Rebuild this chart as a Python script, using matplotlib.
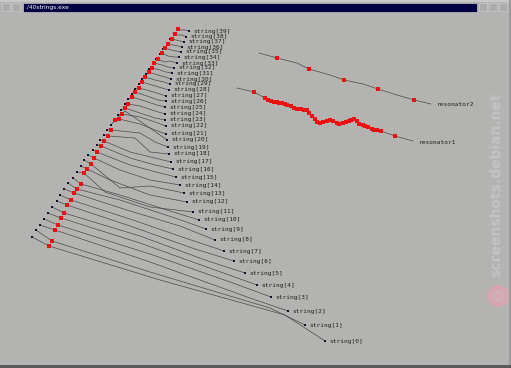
import matplotlib.pyplot as plt
from matplotlib.patches import Rectangle, Circle

# ----------------------------------------------------------------------
# 40 strings: start point, red marker, two bend points, end point (pixels)
# ----------------------------------------------------------------------
string_ids = list(range(40))

start_x = [32, 36, 40, 44, 48, 52, 57, 60, 64, 68, 73, 77, 81, 84, 88, 93, 97, 100, 104, 107,
           111, 114, 118, 121, 125, 128, 132, 135, 139, 142, 146, 149, 153, 156, 160, 163, 167, 170, 174, 177]
start_y = [237, 230, 225, 219, 213, 207, 201, 195, 189, 183, 178, 172, 166, 160, 155, 150, 145, 140, 135, 130,
           125, 120, 115, 110, 104, 99, 94, 89, 84, 79, 74, 69, 64, 59, 54, 49, 44, 39, 34, 29]

red_x = [49, 52, 55, 58, 61, 64, 67, 71, 74, 77, 81, 84, 87, 91, 94, 97, 101, 104, 108, 111,
         115, 119, 122, 125, 128, 132, 135, 139, 142, 145, 149, 152, 154, 158, 162, 165, 168, 172, 175, 178]
red_y = [246, 241, 230, 225, 218, 213, 205, 200, 193, 189, 184, 173, 169, 164, 158, 152, 146, 141, 136, 130,
         120, 119, 114, 108, 104, 97, 92, 88, 82, 77, 72, 68, 63, 59, 53, 48, 44, 39, 34, 29]

bend1_x = [160, 150, 150, 150, 140, 140, 130, 130, 130, 120, 120, 105, 110, 120, 120, 130, 130, 130, 135, 140,
           125, 140, 140, 140, 140, 145, 147, 150, 152, 155, 158, 160, 162, 164, 168, 171, 173, 176, 178, 181]
bend1_y = [280, 272, 262, 254, 243, 236, 226, 219, 211, 200, 195, 192, 180, 188, 170, 165, 158, 152, 138, 133,
           111, 124, 117, 113, 106, 101, 96, 91, 85, 80, 75, 70, 65, 62, 56, 50, 45, 40, 35, 30]

bend2_x = [285, 270, 250, 230, 215, 205, 195, 185, 180, 175, 170, 150, 150, 150, 150, 160, 155, 155, 150, 155,
           150, 155, 155, 155, 155, 157, 158, 160, 162, 164, 165, 166, 168, 170, 174, 176, 178, 180, 182, 185]
bend2_y = [315, 308, 298, 282, 270, 260, 249, 238, 226, 218, 211, 207, 195, 186, 180, 173, 165, 158, 152, 142,
           128, 130, 122, 118, 111, 105, 100, 94, 88, 82, 77, 72, 67, 61, 57, 51, 46, 41, 35, 30]

end_x = [325, 305, 288, 271, 257, 245, 234, 224, 215, 206, 199, 193, 187, 184, 180, 176, 173, 171, 169, 168,
         167, 166, 166, 165, 165, 165, 166, 166, 169, 170, 171, 172, 174, 177, 179, 181, 182, 184, 186, 189]
end_y = [341, 325, 311, 297, 285, 273, 261, 251, 240, 229, 220, 212, 202, 193, 185, 177, 169, 162, 154, 147,
         140, 134, 126, 120, 114, 107, 101, 96, 90, 84, 79, 73, 68, 63, 57, 52, 47, 42, 36.5, 31]

# ----------------------------------------------------------------------
# resonators
# ----------------------------------------------------------------------
res2_x = [259, 277, 297, 309, 330, 344, 363, 378, 397, 414, 431]
res2_y = [53, 58, 63, 69, 75, 80, 84, 89, 95, 100, 104]
res2_red = [1, 3, 5, 7, 9]

res1_x = [237, 254, 265, 268, 271, 274, 277, 279, 282, 285, 287, 291, 294, 297, 301, 304, 307, 309, 312,
          315, 317, 320, 323, 327, 330, 333, 337, 339, 343, 346, 349, 351, 354, 357, 359, 363, 365, 368,
          372, 374, 377, 381, 395, 413]
res1_y = [88, 92, 98, 100, 101, 102, 102, 103, 103, 104, 105, 106, 108, 109, 109, 110, 110, 113, 116,
          119, 122, 123, 122, 121, 120, 121, 123, 124, 123, 122, 121, 120, 119, 121, 124, 125, 126, 127,
          129, 130, 130, 131, 136, 141]

bg = "#b3b3b1"
line_col = "#4a4a4a"
label_kw = dict(fontsize=4.4, family="DejaVu Sans Mono", color="#1e1e1e", va="center", ha="left")

fig = plt.figure(figsize=(5.11, 3.68), dpi=100)
fig.patch.set_facecolor(bg)
ax = fig.add_axes([0, 0, 1, 1])
ax.set_xlim(0, 511)
ax.set_ylim(368, 0)
ax.axis("off")
ax.set_facecolor(bg)

# strings
for k in string_ids:
    xs = [start_x[k], red_x[k], bend1_x[k], bend2_x[k], end_x[k]]
    ys = [start_y[k], red_y[k], bend1_y[k], bend2_y[k], end_y[k]]
    ax.plot(xs, ys, "-", color=line_col, linewidth=0.5, zorder=2)
    ax.text(end_x[k] + 4, end_y[k], f"string[{k}]", zorder=4, **label_kw)

ax.scatter(start_x, start_y, s=2, marker="s", color="#101030", linewidths=0, zorder=3)
ax.scatter(end_x, end_y, s=2, marker="s", color="#101030", linewidths=0, zorder=3)
ax.scatter(red_x, red_y, s=6, marker="s", color="#ee1010", linewidths=0, zorder=3)

# resonators
ax.plot(res2_x, res2_y, "-", color=line_col, linewidth=0.5, zorder=2)
ax.scatter([res2_x[i] for i in res2_red], [res2_y[i] for i in res2_red],
           s=6, marker="s", color="#ee1010", linewidths=0, zorder=3)
ax.text(res2_x[-1] + 6, res2_y[-1] + 1, "resonator2", **label_kw)

ax.plot(res1_x, res1_y, "-", color=line_col, linewidth=0.5, zorder=2)
ax.scatter(res1_x[1:-1], res1_y[1:-1], s=6, marker="s", color="#ee1010", linewidths=0, zorder=3)
ax.text(res1_x[-1] + 6, res1_y[-1] + 1, "resonator1", **label_kw)

# window decoration
ax.add_patch(Rectangle((0, 0), 511, 2, facecolor="#c8c8c8", edgecolor="none", zorder=1))
ax.add_patch(Rectangle((23, 3), 454, 8.5, facecolor="#000040", edgecolor="#e0e0e0", linewidth=0.4, zorder=5))
ax.text(25, 7.3, "./40strings.exe", fontsize=4.2, color="white", va="center", ha="left", zorder=6)
for x0 in (2, 12, 479, 489, 499):
    ax.add_patch(Rectangle((x0, 3), 8, 8, facecolor="#ababab", edgecolor="#cfcfcf", linewidth=0.4, zorder=5))
ax.add_patch(Rectangle((509, 0), 2, 368, facecolor="#9a9a9a", edgecolor="none", zorder=1))
ax.add_patch(Rectangle((0, 365), 511, 3, facecolor="#5a5a5a", edgecolor="none", zorder=1))

# watermark
ax.text(496, 185, "screenshots.debian.net", rotation=90, fontsize=10, fontweight="bold",
        color="#c3c3c3", va="center", ha="center", zorder=1)
ax.add_patch(Circle((498, 296), 11, facecolor="#d6a6b3", edgecolor="none", zorder=1))
ax.add_patch(Circle((498, 296), 5, facecolor="#c4b8bb", edgecolor="none", zorder=1))
ax.add_patch(Circle((498, 296), 3, facecolor="#d6a6b3", edgecolor="none", zorder=1))

fig.savefig("out.png", dpi=100, facecolor=bg)
